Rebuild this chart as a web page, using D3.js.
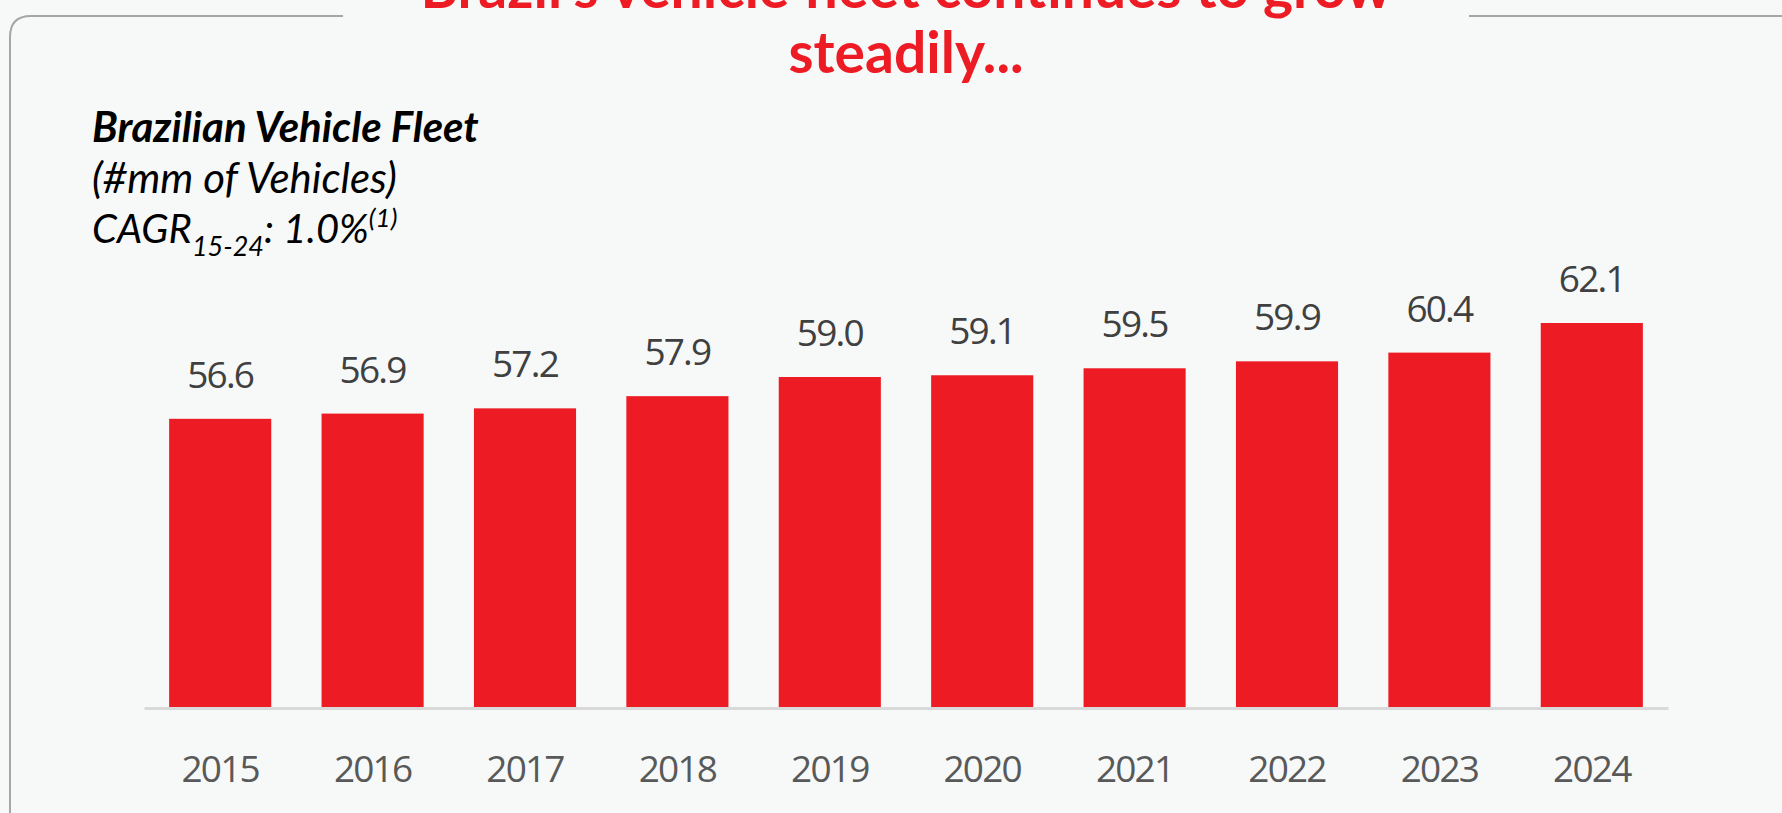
<!DOCTYPE html>
<html>
<head>
<meta charset="utf-8">
<script src="https://cdn.jsdelivr.net/npm/d3@7"></script>
<style>
  body { margin: 0; background: #f7f9f9; }
  svg { display: block; }
</style>
</head>
<body>
<svg id="chart" width="1782" height="813"></svg>
<script>
// data
const years = ['2015', '2016', '2017', '2018', '2019', '2020', '2021', '2022', '2023', '2024'];
const fleet = [56.6, 56.9, 57.2, 57.9, 59.0, 59.1, 59.5, 59.9, 60.4, 62.1];
const titleLines = ["Brazil's vehicle fleet continues to grow", 'steadily...'];

const red = '#ed1c24';
const svg = d3.select('#chart');

svg.append('rect').attr('width', 1782).attr('height', 813).attr('fill', '#f7f9f9');

// frame with a gap for the title
svg.append('path')
  .attr('d', 'M343,16 H31 Q10,16 10,37 V830')
  .attr('fill', 'none').attr('stroke', '#a6a6a6').attr('stroke-width', 2);
svg.append('path')
  .attr('d', 'M1469,16 H1782')
  .attr('fill', 'none').attr('stroke', '#a6a6a6').attr('stroke-width', 2);

// title (first line runs off the top, as in the slide)
svg.append('g').selectAll('text').data(titleLines).join('text')
  .attr('x', 906).attr('y', (d, i) => 8 + i * 65)
  .attr('text-anchor', 'middle')
  .style('font', 'bold 57px Lato').attr('fill', red)
  .text(d => d);

// subtitle block
const sub = svg.append('g').style('font-family', 'Lato').attr('fill', '#000');
sub.append('text').attr('x', 92).attr('y', 142)
  .style('font-size', '42px').style('font-weight', 'bold').style('font-style', 'italic')
  .text('Brazilian Vehicle Fleet');
sub.append('text').attr('x', 92).attr('y', 193)
  .style('font-size', '42px').style('font-style', 'italic')
  .text('(#mm of Vehicles)');
let cagr = sub.append('text').attr('x', 92).attr('y', 243)
  .style('font-size', '40px').style('font-style', 'italic');
cagr.append('tspan').text('CAGR');
cagr.append('tspan').attr('dy', 13).style('font-size', '27px').text('15-24');
cagr.append('tspan').attr('dy', -13).text(': 1.0%');
cagr.append('tspan').attr('dy', -16).style('font-size', '26px').text('(1)');

// scales
const x = d3.scaleBand(years, [144, 1668]).paddingInner(0.33).paddingOuter(0.165);
const y = d3.scaleLinear([40, 62.1], [708, 323]);

// bars
svg.append('g').selectAll('rect').data(fleet).join('rect')
  .attr('x', (d, i) => x(years[i]))
  .attr('y', d => y(d))
  .attr('width', x.bandwidth())
  .attr('height', d => y(40) - y(d))
  .attr('fill', red);

// value labels
svg.append('g').selectAll('text').data(fleet).join('text')
  .attr('x', (d, i) => x(years[i]) + x.bandwidth() / 2)
  .attr('y', d => y(d) - 31)
  .attr('text-anchor', 'middle')
  .style('font', '37px "Open Sans"').style('letter-spacing', '-1.8px')
  .attr('fill', '#404040')
  .text(d => d.toFixed(1));

// x axis
const xAxis = svg.append('g').attr('transform', 'translate(0,708)')
  .call(d3.axisBottom(x).tickSize(0).tickSizeOuter(0));
xAxis.select('.domain').attr('stroke', '#d9d9d9').attr('stroke-width', 3);
xAxis.selectAll('text')
  .attr('y', 74).attr('dy', 0)
  .style('font', '37px "Open Sans"').style('letter-spacing', '-1.8px')
  .attr('fill', '#595959');
</script>
</body>
</html>
